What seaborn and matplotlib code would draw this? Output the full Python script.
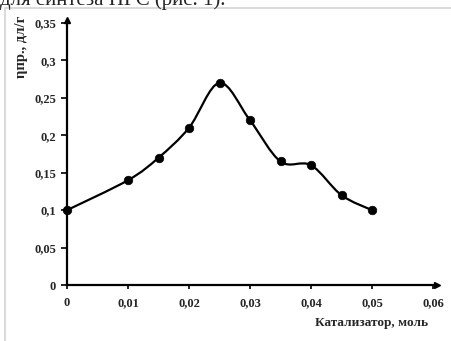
import numpy as np
import pandas as pd
import seaborn as sns
import matplotlib.pyplot as plt
from matplotlib.path import Path
from matplotlib.patches import PathPatch, Rectangle

sns.set_style("white")
plt.rcParams["font.family"] = ["Liberation Serif", "DejaVu Serif"]

# =========================
# Data
# =========================
catalyst = [0, 0.01, 0.015, 0.02, 0.025, 0.03, 0.035, 0.04, 0.045, 0.05]
viscosity = [0.10, 0.14, 0.17, 0.21, 0.27, 0.22, 0.165, 0.16, 0.12, 0.10]
x_ticks = [0, 0.01, 0.02, 0.03, 0.04, 0.05, 0.06]
y_ticks = [0, 0.05, 0.1, 0.15, 0.2, 0.25, 0.3, 0.35]

df = pd.DataFrame({"x": catalyst, "y": viscosity})


def fmt(v):
    s = f"{v:.2f}".rstrip("0").rstrip(".")
    return s.replace(".", ",")


# smooth line (Catmull-Rom as bezier, like Excel "smoothed line")
def smooth_path(xs, ys, t=1 / 6):
    pts = np.column_stack([xs, ys])
    verts = [pts[0]]
    codes = [Path.MOVETO]
    n = len(pts)
    for i in range(n - 1):
        p0 = pts[max(i - 1, 0)]
        p1 = pts[i]
        p2 = pts[i + 1]
        p3 = pts[min(i + 2, n - 1)]
        c1 = p1 + (p2 - p0) * t
        c2 = p2 - (p3 - p1) * t
        verts += [c1, c2, p2]
        codes += [Path.CURVE4] * 3
    return Path(verts, codes)


fig = plt.figure(figsize=(4.51, 3.41), dpi=100)
ax = fig.add_axes([67 / 451, 56 / 341, 366 / 451, 262 / 341])

# gray frame around the picture
fig.add_artist(Rectangle((5 / 451, -0.1), 1.2, 1.1 - 8 / 341,
                         transform=fig.transFigure, fill=False,
                         edgecolor="#d4d4d4", linewidth=1.2))

ax.add_patch(PathPatch(smooth_path(df["x"], df["y"]), facecolor="none",
                       edgecolor="black", linewidth=1.6, zorder=2))
sns.scatterplot(data=df, x="x", y="y", ax=ax, color="black", s=38,
                edgecolor="black", zorder=3, clip_on=False)

ax.set_xlim(0, 0.06)
ax.set_ylim(0, 0.35)
ax.set_xticks(x_ticks)
ax.set_yticks(y_ticks)
ax.set_xticklabels([fmt(v) for v in x_ticks], fontweight="bold", fontsize=9)
ax.set_yticklabels([fmt(v) for v in y_ticks], fontweight="bold", fontsize=9)
ax.tick_params(axis="x", direction="out", length=3, width=1.2,
               color="black", pad=5.5, bottom=True)
ax.tick_params(axis="y", direction="out", length=4, width=1.2,
               color="black", pad=4, left=True)

for side in ["top", "right"]:
    ax.spines[side].set_visible(False)
for side in ["left", "bottom"]:
    ax.spines[side].set_color("black")
    ax.spines[side].set_linewidth(1.6)

# arrow heads
ax.plot(1.01, 0, ">k", markersize=4, transform=ax.transAxes, clip_on=False)
ax.plot(0, 1.01, "^k", markersize=4, transform=ax.transAxes, clip_on=False)

ax.set_xlabel("")
ax.set_ylabel("")
fig.text(428 / 451, 1 - 323 / 341, "Катализатор, моль", ha="right",
         va="center", fontsize=9.5, fontweight="bold")
fig.text(21 / 451, 1 - 47 / 341, "ηпр., дл/г", rotation=90, ha="center",
         va="center", fontsize=10.5, fontweight="bold")

# cut caption line from the page above
fig.text(0.0, 1.0, "для синтеза ПГС (рис. 1).", ha="left", va="center",
         fontsize=15)

fig.savefig("out.png", dpi=100)
